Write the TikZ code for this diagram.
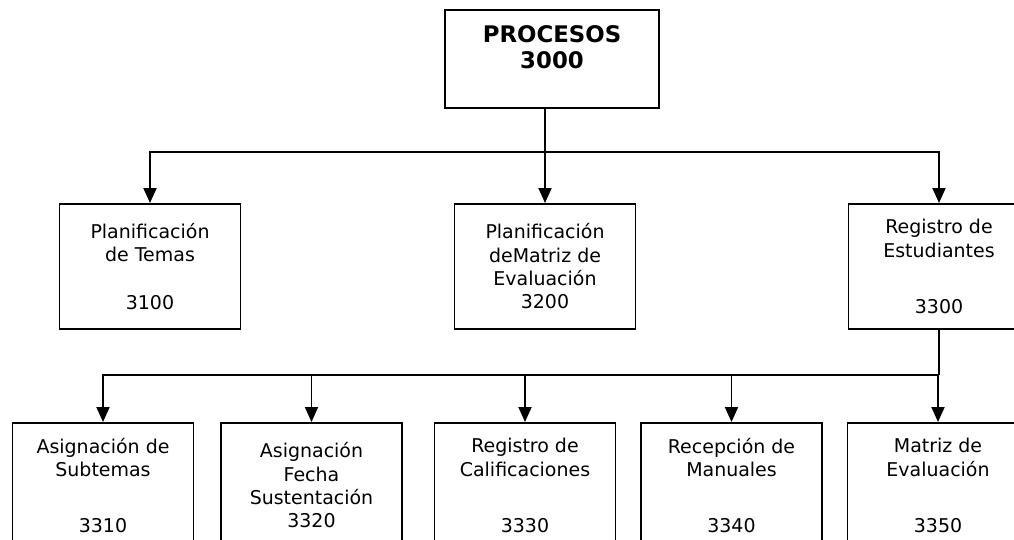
\documentclass[tikz,border=0pt]{standalone}
\usepackage{fontspec}
\setmainfont{DejaVu Sans}
\usepackage{tikz}
\usetikzlibrary{arrows.meta}

\begin{document}
\begin{tikzpicture}[x=0.02cm,y=-0.02cm,line width=1.1pt,
    caja/.style={draw,anchor=north,minimum width=3.62cm,minimum height=2.5cm,
      inner sep=0pt,align=center,font=\fontsize{10.8}{13.3}\selectfont},
    raiz/.style={draw,anchor=north,minimum width=4.28cm,minimum height=1.96cm,
      inner sep=0pt,align=center,text depth=0.48cm,
      font=\fontsize{13}{14.7}\selectfont\bfseries},
    flecha/.style={-{Triangle[width=0.26cm,length=0.3cm]}}]
  \path[use as bounding box] (0,0) rectangle (1014,539);
  \clip (0,0) rectangle (1014,539);

  % Root box
  \node[raiz] (proc) at (552,9) {PROCESOS\\3000};

  % First level boxes
  \node[caja] (plan) at (150,203) {Planificaci\'on\\de Temas\\[0.5cm]3100};
  \node[caja] (matriz) at (545,203) {Planificaci\'on\\deMatriz de\\Evaluaci\'on\\3200};
  \node[caja] (estud) at (939,203) {Registro de\\Estudiantes\\[0.65cm]3300};

  % Second level boxes
  \node[caja] (subt) at (103,422) {Asignaci\'on de\\Subtemas\\[0.65cm]3310};
  \node[caja] (fecha) at (311.5,422) {Asignaci\'on\\Fecha\\Sustentaci\'on\\3320};
  \node[caja] (calif) at (525,422) {Registro de\\Calificaciones\\[0.65cm]3330};
  \node[caja] (manual) at (731.5,422) {Recepci\'on de\\Manuales\\[0.65cm]3340};
  \node[caja] (eval) at (938,422) {Matriz de\\Evaluaci\'on\\[0.65cm]3350};

  % Bus under the root box
  \coordinate (bus1) at (545,152);
  \draw (proc.south -| bus1) -- (bus1);
  \draw[flecha] (bus1) -| (plan.north);
  \draw[flecha] (bus1) -- (matriz.north);
  \draw[flecha] (bus1) -| (estud.north);

  % Bus under Registro de Estudiantes
  \coordinate (bus2) at (939,375);
  \draw (estud.south) -- (bus2);
  \draw[flecha] (bus2) -| (subt.north);
  \draw[flecha] (bus2) -| (fecha.north);
  \draw[flecha] (bus2) -| (calif.north);
  \draw[flecha] (bus2) -| (manual.north);
  \draw[flecha] (bus2) -| (eval.north);
\end{tikzpicture}
\end{document}
